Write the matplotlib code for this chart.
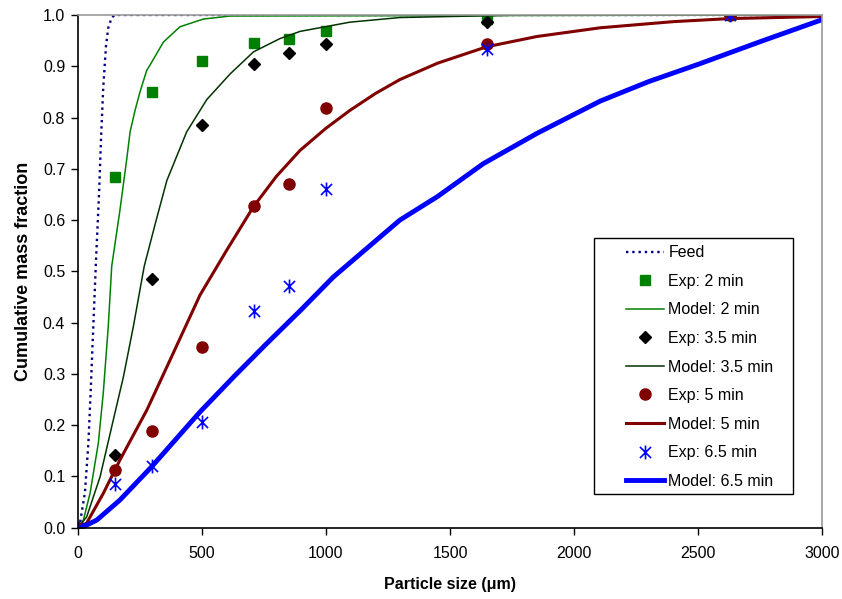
import matplotlib
matplotlib.use("Agg")
import matplotlib.pyplot as plt
from matplotlib.path import Path
from matplotlib.patches import Rectangle

plt.rcParams['font.family'] = ['Liberation Sans', 'DejaVu Sans']

# experimental points
size_exp = [0, 150, 300, 500, 710, 850, 1000, 1650, 2630]
exp_2 = [0, 0.684, 0.850, 0.910, 0.945, 0.954, 0.969, 0.993, 1.0]
exp_35 = [0, 0.142, 0.485, 0.786, 0.904, 0.925, 0.943, 0.987, 1.0]
exp_5 = [0, 0.113, 0.188, 0.352, 0.627, 0.670, 0.819, 0.944, 1.0]
exp_65 = [0, 0.085, 0.120, 0.207, 0.423, 0.472, 0.660, 0.934, 1.0]

# model curves
feed_x = [0, 9, 29, 43, 52, 60, 74, 86, 94, 103, 114, 123, 137, 150, 3000]
feed_y = [0, 0.009, 0.068, 0.165, 0.263, 0.36, 0.525, 0.652, 0.76, 0.86, 0.94, 0.975, 0.995, 1.0, 1.0]

m2_x = [0, 23, 50, 83, 103, 123, 137, 170, 197, 211, 231, 251, 278, 291, 345, 412, 506, 614, 3000]
m2_y = [0, 0.015, 0.068, 0.165, 0.263, 0.392, 0.51, 0.619, 0.717, 0.772, 0.814, 0.85, 0.892, 0.902,
        0.947, 0.977, 0.992, 0.998, 1.0]

m35_x = [0, 36, 90, 137, 184, 224, 268, 313, 359, 439, 520, 614, 708, 815, 896, 1097, 1298, 1800, 3000]
m35_y = [0, 0.021, 0.099, 0.197, 0.294, 0.392, 0.51, 0.594, 0.677, 0.772, 0.835, 0.885, 0.928, 0.954,
         0.968, 0.986, 0.995, 1.0, 1.0]

m5_x = [0, 36, 103, 170, 278, 372, 493, 600, 708, 800, 896, 1000, 1097, 1200, 1298, 1450, 1648, 1850,
        2105, 2400, 2628, 3000]
m5_y = [0, 0.009, 0.067, 0.132, 0.229, 0.327, 0.454, 0.541, 0.626, 0.685, 0.736, 0.779, 0.814, 0.847,
        0.874, 0.906, 0.938, 0.958, 0.975, 0.987, 0.993, 0.997]

m65_x = [0, 23, 77, 170, 298, 400, 493, 630, 761, 900, 1030, 1298, 1450, 1634, 1850, 2105, 2300, 2507,
         2750, 3000]
m65_y = [0, 0.002, 0.015, 0.054, 0.119, 0.175, 0.226, 0.295, 0.359, 0.425, 0.489, 0.600, 0.646, 0.71,
         0.769, 0.832, 0.870, 0.905, 0.948, 0.991]

# asterisk-like marker: X plus vertical bar
star = Path([(-1, -1), (1, 1), (-1, 1), (1, -1), (0, -1.25), (0, 1.25)],
            [Path.MOVETO, Path.LINETO, Path.MOVETO, Path.LINETO, Path.MOVETO, Path.LINETO])

fig = plt.figure(figsize=(8.42, 5.99), dpi=100)
ax = fig.add_axes([0.0923, 0.119, 0.8843, 0.856])

ax.plot(feed_x, feed_y, ':', color='#000080', lw=1.7, label='Feed')
ax.plot(size_exp, exp_2, 's', color='#008000', ms=7, ls='none', label='Exp: 2 min')
ax.plot(m2_x, m2_y, '-', color='#008000', lw=1.1, label='Model: 2 min')
ax.plot(size_exp, exp_35, 'D', color='black', ms=6.5, ls='none', label='Exp: 3.5 min')
ax.plot(m35_x, m35_y, '-', color='#003300', lw=1.1, label='Model: 3.5 min')
ax.plot(size_exp, exp_5, 'o', color='#800000', ms=8, ls='none', label='Exp: 5 min')
ax.plot(m5_x, m5_y, '-', color='#800000', lw=2.2, label='Model: 5 min')
ax.plot(size_exp, exp_65, marker=star, color='#0000FF', ms=10, mew=1.2, ls='none', label='Exp: 6.5 min')
ax.plot(m65_x, m65_y, '-', color='#0000FF', lw=3.5, label='Model: 6.5 min')

ax.set_xlim(0, 3000)
ax.set_ylim(0, 1.0)
ax.set_xticks([0, 500, 1000, 1500, 2000, 2500, 3000])
ax.set_yticks([i / 10 for i in range(11)])
ax.set_yticklabels(['%.1f' % (i / 10) for i in range(11)])
ax.tick_params(labelsize=11.5, length=5, width=1, direction='out', color='black')
ax.tick_params(axis='x', pad=8)
ax.tick_params(axis='y', pad=4)

for s in ['top', 'right']:
    ax.spines[s].set_color('#999999')
    ax.spines[s].set_linewidth(1.2)
for s in ['left', 'bottom']:
    ax.spines[s].set_color('black')
    ax.spines[s].set_linewidth(1.2)

ax.set_xlabel('Particle size (\u03bcm)', fontsize=11.5, fontweight='bold', labelpad=12)
ax.set_ylabel('Cumulative mass fraction', fontsize=13, fontweight='bold', labelpad=8)

# legend frame drawn separately to get the wide left margin
ax.add_patch(Rectangle((0.6931, 0.0657), 0.267, 0.4997, transform=ax.transAxes,
                       fill=True, facecolor='white', edgecolor='black', lw=1, zorder=4))
leg = ax.legend(loc='upper left', bbox_to_anchor=(0.7364, 0.551), frameon=False,
                fontsize=11.5, handlelength=2.4, handletextpad=0.25, labelspacing=0.85,
                borderaxespad=0, borderpad=0)
leg.set_zorder(5)

fig.savefig('out.png', dpi=100)
